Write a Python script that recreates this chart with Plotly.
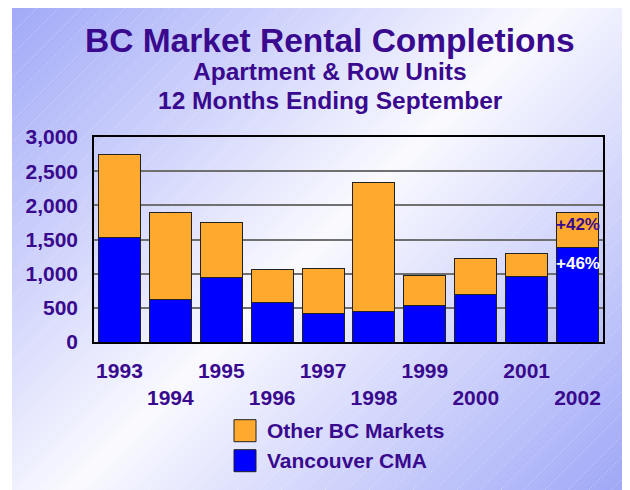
import base64, struct, zlib
import numpy as np
import plotly.graph_objects as go

years = ["1993", "1994", "1995", "1996", "1997", "1998", "1999", "2000", "2001", "2002"]
vancouver = [1527, 624, 951, 585, 410, 449, 541, 688, 956, 1385]
other = [1210, 1269, 795, 469, 663, 1883, 439, 536, 342, 508]
series_names = ["Other BC Markets", "Vancouver CMA"]
pct_other = "+42%"
pct_van = "+46%"
yticks = [0, 500, 1000, 1500, 2000, 2500, 3000]

TXT = "#3a0a8e"
FONT = "Liberation Sans, Arial, sans-serif"
ORANGE = "#FFAA2E"
BLUE = "#0000FF"

# page offset of the figure inside the browser (body margin)
OFF = 8

# ---------- background gradient image (page coordinates) ----------
W, H = 618, 482
ox, oy = 12, 8
X, Y = np.meshgrid(np.arange(W) + ox, np.arange(H) + oy)
s = (X + Y).astype(float)
t = np.clip(np.abs(s - 560) / 540.0, 0, 1)
white = np.array([250, 250, 255.0])
blue = np.array([162, 170, 248.0])
img = white[None, None, :] * (1 - t[..., None]) + blue[None, None, :] * t[..., None]
lines = ((s % 22) < 1.0) & (((X - Y) % 4) < 2)
img[lines] = img[lines] * 0.7 + 255 * 0.3
img = np.clip(img, 0, 255).astype(np.uint8)
raw = b"".join(b"\x00" + img[r].tobytes() for r in range(H))
def chunk(tag, data):
    return struct.pack(">I", len(data)) + tag + data + struct.pack(">I", zlib.crc32(tag + data) & 0xffffffff)
png = b"\x89PNG\r\n\x1a\n" + chunk(b"IHDR", struct.pack(">IIBBBBB", W, H, 8, 2, 0, 0, 0)) \
    + chunk(b"IDAT", zlib.compress(raw, 9)) + chunk(b"IEND", b"")
src = "data:image/png;base64," + base64.b64encode(png).decode()

FW, FH = 630, 490
L, T = 94 - OFF, 137 - OFF
R = FW - (603 - OFF)
B = FH - (342 - OFF)
PW, PH = FW - L - R, FH - T - B
def px(xp):  # page pixel -> paper
    return (xp - OFF - L) / PW
def py(yp):
    return (FH - B - (yp - OFF)) / PH

def fnt(size, color=TXT):
    return dict(size=size, color=color, family=FONT, weight="bold")

fig = go.Figure()
fig.add_trace(go.Bar(x=years, y=vancouver, name=series_names[1],
                     marker=dict(color=BLUE, line=dict(color="#222222", width=1)), showlegend=False))
fig.add_trace(go.Bar(x=years, y=other, name=series_names[0],
                     marker=dict(color=ORANGE, line=dict(color="#222222", width=1)), showlegend=False))

ticktext = [y if i % 2 == 0 else "<br>" + y for i, y in enumerate(years)]

totals = [a + b for a, b in zip(vancouver, other)]
last = len(years) - 1
annotations = [
    dict(text="BC Market Rental Completions", xref="paper", yref="paper", x=px(330), y=py(40),
         showarrow=False, font=fnt(33.5), xanchor="center", yanchor="middle"),
    dict(text="Apartment & Row Units", xref="paper", yref="paper", x=px(330), y=py(72),
         showarrow=False, font=fnt(24.5), xanchor="center", yanchor="middle"),
    dict(text="12 Months Ending September", xref="paper", yref="paper", x=px(330), y=py(100.5),
         showarrow=False, font=fnt(24.5), xanchor="center", yanchor="middle"),
    dict(text=pct_other, x=last, y=totals[-1], xref="x", yref="y", yshift=-12,
         showarrow=False, font=fnt(17), yanchor="middle"),
    dict(text=pct_van, x=last, y=vancouver[-1], xref="x", yref="y", yshift=-16,
         showarrow=False, font=fnt(17, "white"), yanchor="middle"),
]
shapes = []
legend_colors = [ORANGE, BLUE]
legend_y = [430.7, 460.7]
for name, col, yc in zip(series_names, legend_colors, legend_y):
    shapes.append(dict(type="rect", xref="paper", yref="paper", x0=px(234), x1=px(256),
                       y0=py(yc - 11), y1=py(yc + 11), fillcolor=col,
                       line=dict(color="#222222", width=1)))
    annotations.append(dict(text=name, xref="paper", yref="paper", x=px(265), y=py(yc),
                            xanchor="left", yanchor="middle", showarrow=False,
                            font=fnt(21)))

fig.update_layout(
    width=FW, height=FH,
    margin=dict(l=L, r=R, t=T, b=B, autoexpand=False),
    barmode="stack", bargap=0.175,
    paper_bgcolor="white", plot_bgcolor="rgba(0,0,0,0)",
    font=dict(family=FONT, color=TXT),
    showlegend=False,
    annotations=annotations,
    shapes=shapes,
    images=[dict(source=src, xref="paper", yref="paper", x=px(ox), y=py(oy),
                 sizex=W / PW, sizey=H / PH, sizing="stretch", xanchor="left", yanchor="top",
                 layer="below")],
    xaxis=dict(type="category", tickvals=years, ticktext=ticktext, tickfont=fnt(21),
               range=[-0.5, len(years) - 0.5],
               showline=True, mirror=True, linecolor="black", linewidth=1.5,
               ticks="", ticklabelstandoff=9, showgrid=False, automargin=False, tickangle=0),
    yaxis=dict(range=[0, 3000], tickvals=yticks, tickformat=",",
               tickfont=fnt(21),
               showline=True, mirror=True, linecolor="black", linewidth=1.5,
               gridcolor="#707070", gridwidth=1.5, ticks="", ticklabelstandoff=10,
               zeroline=False, automargin=False),
)
fig.write_html("out.html")
